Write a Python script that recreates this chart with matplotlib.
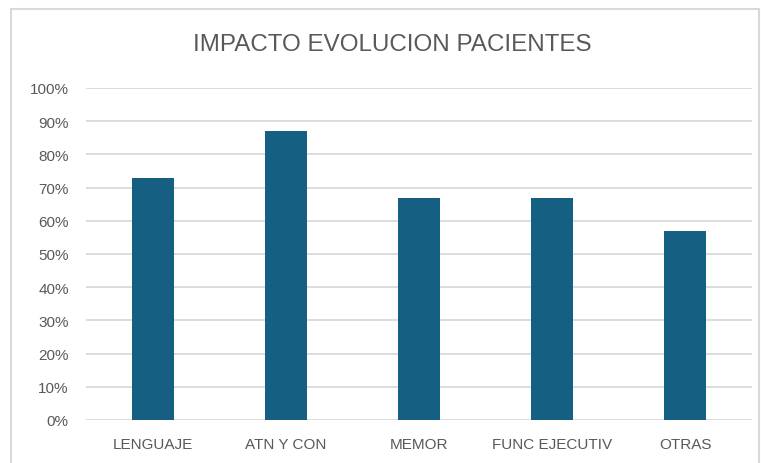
import matplotlib
matplotlib.use("Agg")
import matplotlib.pyplot as plt
from matplotlib.patches import Rectangle
from matplotlib.ticker import PercentFormatter

categories = ["LENGUAJE", "ATN Y CON", "MEMOR", "FUNC EJECUTIV", "OTRAS"]
values = [0.73, 0.87, 0.67, 0.67, 0.57]
y_ticks = [i / 10 for i in range(11)]

W, H = 761, 464
fig = plt.figure(figsize=(W / 100, H / 100), dpi=100)
plt.rcParams['font.family'] = ['Liberation Sans', 'DejaVu Sans']

# light grey chart border (bottom edge falls outside the crop)
fig.patches.append(Rectangle((11 / W, -0.05), (759 - 11) / W, 1.05 - 10 / H,
                             transform=fig.transFigure, fill=False,
                             edgecolor="#d9d9d9", linewidth=1.5))

ax = fig.add_axes([86 / W, 43 / H, (752 - 86) / W, (421 - 89) / H])
x = range(len(categories))
ax.bar(x, values, width=0.315, color="#156082", zorder=3)

ax.set_ylim(0, 1)
ax.set_xlim(-0.5, len(categories) - 0.5)
ax.set_yticks(y_ticks)
ax.yaxis.set_major_formatter(PercentFormatter(1.0, decimals=0))
ax.set_xticks(list(x))
ax.set_xticklabels(categories)
ax.grid(axis="y", color="#d9d9d9", linewidth=1.3, zorder=0)
for s in ax.spines.values():
    s.set_visible(False)
ax.tick_params(length=0, labelsize=11, labelcolor="#595959")
ax.tick_params(axis="y", pad=12.5)
ax.tick_params(axis="x", pad=12)

fig.text(392 / W, 1 - 45 / H, "IMPACTO EVOLUCION PACIENTES", ha="center", va="center",
         fontsize=17.4, color="#595959")

fig.savefig("out.png", dpi=100)
